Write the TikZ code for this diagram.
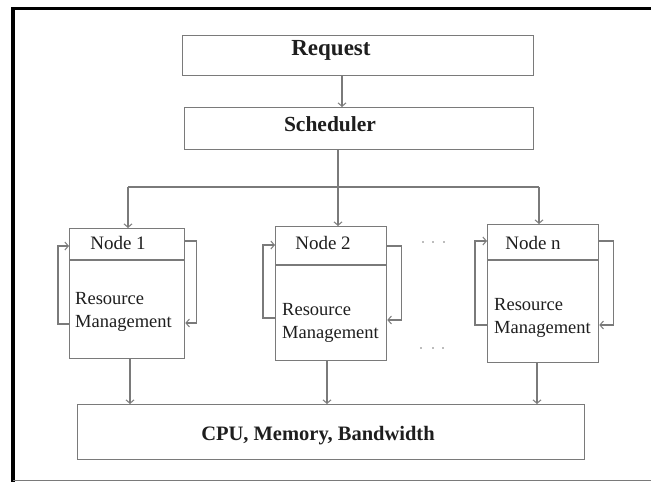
\documentclass[tikz,border=0pt]{standalone}
\usepackage{fontspec}
\setmainfont{Liberation Serif}
\usetikzlibrary{arrows.meta}
\definecolor{ln}{HTML}{7A7A7A}
\definecolor{tx}{HTML}{1E1E1E}
\begin{document}
\begin{tikzpicture}[x=1pt,y=-1pt,
  box/.style={draw=ln,line width=1.3pt,rectangle,inner sep=0pt,anchor=north west},
  bold/.style={text=tx,inner sep=0pt,font=\fontsize{21.5}{24}\selectfont\bfseries},
  nlabel/.style={text=tx,inner sep=0pt,font=\fontsize{19}{22}\selectfont},
  rmtext/.style={text=tx,inner sep=0pt,anchor=west,align=left,font=\fontsize{18.5}{23}\selectfont},
  conn/.style={draw=ln,line width=1.2pt},
  arr/.style={conn,-{Straight Barb[length=3.5pt,width=8pt,line width=1pt]}},
  dotc/.style={fill=ln}]
\useasboundingbox (0,0) rectangle (651,482);
% frame
\draw[line width=3.6pt,black] (13,482) -- (13,8.5) -- (651,8.5);
\draw[line width=1.5pt,ln] (13,480.5) -- (651,480.5);

% top boxes
\node[box,minimum width=351pt,minimum height=40pt] (req) at (182,35) {};
\node[bold,font=\fontsize{23}{26}\selectfont\bfseries] (reqt) at (331,50) {Request};
\node[box,minimum width=349pt,minimum height=42pt] (sch) at (184,107) {};
\node[bold] (scht) at (330,124) {Scheduler};
\draw[arr] ([xshift=160pt]req.south west) -- ([xshift=158pt]sch.north west);

% nodes
\node[box,minimum width=115pt,minimum height=130pt] (n1) at (69,228) {};
\node[box,minimum width=111pt,minimum height=134pt] (n2) at (275,226) {};
\node[box,minimum width=111pt,minimum height=138pt] (nn) at (487,224) {};
\draw[conn] ([yshift=-32pt]n1.north west) -- ([yshift=-32pt]n1.north east);
\draw[conn] ([yshift=-39pt]n2.north west) -- ([yshift=-39pt]n2.north east);
\draw[conn] ([yshift=-36pt]nn.north west) -- ([yshift=-36pt]nn.north east);
\node[nlabel] (n1t) at (118,243) {Node 1};
\node[nlabel] (n2t) at (323,243) {Node 2};
\node[nlabel] (nnt) at (533,243) {Node n};
\node[rmtext] (r1) at (75,312) {Resource\\Management};
\node[rmtext] (r2) at (282,323) {Resource\\Management};
\node[rmtext] (rn) at (494,318) {Resource\\Management};

% bus
\coordinate (j) at (338,187);
\coordinate (b1) at (128,187);
\coordinate (bn) at (539,187);
\draw[conn] ([xshift=154pt]sch.south west) -- (j);
\draw[conn] (b1) -- (bn);
\fill[ln] (j) circle (1.4pt);
\draw[arr] (b1) -- (b1 |- n1.north);
\draw[arr] (j) -- (j |- n2.north);
\draw[arr] (bn) -- (bn |- nn.north);

% loops
\draw[arr] ([yshift=-96pt]n1.north west) -- ++(-11,0) |- ([yshift=-18pt]n1.north west);
\draw[arr] ([yshift=-13pt]n1.north east) -- ++(11,0) |- ([yshift=-95pt]n1.north east);
\draw[arr] ([yshift=-92pt]n2.north west) -- ++(-12,0) |- ([yshift=-19pt]n2.north west);
\draw[arr] ([yshift=-20pt]n2.north east) -- ++(14,0) |- ([yshift=-94pt]n2.north east);
\draw[arr] ([yshift=-101pt]nn.north west) -- ++(-12,0) |- ([yshift=-17pt]nn.north west);
\draw[arr] ([yshift=-17pt]nn.north east) -- ++(14,0) |- ([yshift=-101pt]nn.north east);

% dots
\foreach \x in {423,433,444} \fill[dotc] (\x,242) circle (0.8pt);
\foreach \x in {421,433,443} \fill[dotc] (\x,348) circle (0.8pt);

% bottom
\node[box,minimum width=507pt,minimum height=55pt] (cpu) at (77,404) {};
\node[bold,font=\fontsize{20.5}{24}\selectfont\bfseries] (cput) at (318,436) {CPU, Memory, Bandwidth};
\draw[arr] ([xshift=61pt]n1.south west) -- ([xshift=53pt]cpu.north west);
\draw[arr] ([xshift=52pt]n2.south west) -- ([xshift=250pt]cpu.north west);
\draw[arr] ([xshift=50pt]nn.south west) -- ([xshift=460pt]cpu.north west);
\end{tikzpicture}
\end{document}
